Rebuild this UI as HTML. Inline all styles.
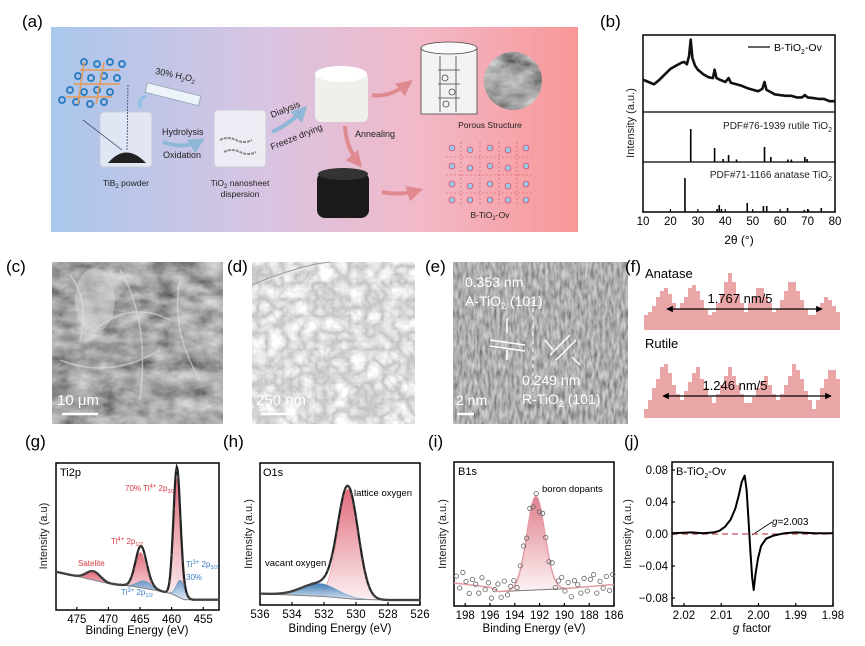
<!DOCTYPE html>
<html><head><meta charset="utf-8">
<style>
html,body{margin:0;padding:0;background:#fff;}
svg{display:block;font-family:"Liberation Sans",Arial,sans-serif;}
</style></head>
<body>
<svg id="fig" width="865" height="646" viewBox="0 0 865 646" xmlns="http://www.w3.org/2000/svg">
<defs>
<linearGradient id="gradA" x1="0" x2="1" y1="0" y2="0">
<stop offset="0" stop-color="#a9c7ec"/><stop offset="0.4" stop-color="#d8c4e2"/><stop offset="0.7" stop-color="#f2b9c8"/><stop offset="1" stop-color="#f89797"/>
</linearGradient>
<linearGradient id="gRed" x1="0" x2="0" y1="0" y2="1"><stop offset="0" stop-color="#de5d6e"/><stop offset="1" stop-color="#fbeef0"/></linearGradient>
<linearGradient id="gBlue" x1="0" x2="0" y1="0" y2="1"><stop offset="0" stop-color="#2f6fb0"/><stop offset="1" stop-color="#dbe8f4"/></linearGradient>
<linearGradient id="gPink" x1="0" x2="0" y1="0" y2="1"><stop offset="0" stop-color="#e07f8c"/><stop offset="1" stop-color="#fdf3f4"/></linearGradient>
<filter id="semC" x="0" y="0" width="1" height="1"><feTurbulence type="fractalNoise" baseFrequency="0.04 0.07" numOctaves="4" seed="3"/><feColorMatrix type="matrix" values="0.8 0.2 0 0 -0.12  0.8 0.2 0 0 -0.12  0.8 0.2 0 0 -0.12  0 0 0 0 1"/></filter>
<filter id="temD" x="0" y="0" width="1" height="1"><feTurbulence type="turbulence" baseFrequency="0.06" numOctaves="3" seed="7"/><feColorMatrix type="matrix" values="0.8 0 0 0 0.5  0.8 0 0 0 0.5  0.8 0 0 0 0.5  0 0 0 0 1"/></filter>
<filter id="hrE" x="0" y="0" width="1" height="1"><feTurbulence type="fractalNoise" baseFrequency="0.35 0.1" numOctaves="2" seed="5"/><feColorMatrix type="matrix" values="0.7 0 0 0 0.07  0.7 0 0 0 0.07  0.7 0 0 0 0.07  0 0 0 0 1"/></filter>
<marker id="arrK" viewBox="0 0 10 10" refX="9" refY="5" markerWidth="5" markerHeight="5" orient="auto-start-reverse"><path d="M0,0L10,5L0,10z" fill="#000"/></marker>
<marker id="arrP" viewBox="0 0 10 10" refX="8" refY="5" markerWidth="4" markerHeight="4" orient="auto"><path d="M0,0L10,5L0,10z" fill="#e08a8f"/></marker>
<marker id="arrB" viewBox="0 0 10 10" refX="8" refY="5" markerWidth="4" markerHeight="4" orient="auto"><path d="M0,0L10,5L0,10z" fill="#8fb7d8"/></marker>
<clipPath id="circClip"><circle cx="513" cy="81" r="29"/></clipPath>
</defs>

<!-- Panel a -->
<g>
<text x="22" y="27" font-size="17">(a)</text>
<rect x="51" y="27" width="527" height="205" fill="url(#gradA)"/>
<g fill="none" stroke="#2f7fc1" stroke-width="2">
<circle cx="84" cy="62" r="3"/><circle cx="97" cy="64" r="3"/><circle cx="110" cy="62" r="3"/><circle cx="122" cy="64" r="3"/>
<circle cx="78" cy="76" r="3"/><circle cx="91" cy="78" r="3"/><circle cx="104" cy="76" r="3"/><circle cx="117" cy="78" r="3"/>
<circle cx="70" cy="90" r="3"/><circle cx="84" cy="92" r="3"/><circle cx="97" cy="90" r="3"/><circle cx="110" cy="92" r="3"/>
<circle cx="62" cy="100" r="3"/><circle cx="76" cy="102" r="3"/><circle cx="90" cy="104" r="3"/><circle cx="104" cy="102" r="3"/>
</g>
<g stroke="#e39a5a" stroke-width="1.5"><path d="M80 70L120 70M74 84L120 84M66 97L112 97M84 62L78 104M104 62L96 104" /></g>
<g>
<rect x="100" y="112" width="52" height="55" rx="4" fill="#f2f4f8" fill-opacity="0.7" stroke="#c9ccd6"/>
<path d="M108 163 Q126 142 146 163 Z" fill="#222"/>
<line x1="83" y1="120" x2="122" y2="150" stroke="#335" stroke-width="0.7"/>
<line x1="128" y1="85" x2="127" y2="150" stroke="#335" stroke-width="0.7" stroke-dasharray="2 1"/>
</g>
<text x="126" y="186" font-size="8.5" text-anchor="middle" fill="#222">TiB<tspan font-size="6" dy="2">2</tspan><tspan dy="-2"> powder</tspan></text>
<g transform="rotate(14 172 96)">
<rect x="145" y="89" width="55" height="10" fill="#eef3fa" stroke="#9ab" />
</g>
<path d="M140 108 Q138 99 146 96" stroke="#8fc0e6" stroke-width="3" fill="none"/>
<text x="155" y="78" font-size="9" transform="rotate(12 175 75)" fill="#222">30% H<tspan font-size="6" dy="2">2</tspan><tspan dy="-2">O</tspan><tspan font-size="6" dy="2">2</tspan></text>
<text x="162" y="135" font-size="9" fill="#222">Hydrolysis</text>
<text x="163" y="158" font-size="9" fill="#222">Oxidation</text>
<path d="M163 142 Q185 150 202 140" stroke="#8fb7d8" stroke-width="4" fill="none" marker-end="url(#arrB)"/>
<g>
<rect x="214" y="110" width="52" height="57" rx="4" fill="#f5f5f8" fill-opacity="0.8" stroke="#c9ccd6"/>
<path d="M220 140 q8 -4 16 0 q8 4 16 0 M224 152 q8 -4 16 0 q8 4 16 0" stroke="#888" stroke-width="2" fill="none" stroke-dasharray="3 1"/>
</g>
<text x="240" y="186" font-size="8.5" text-anchor="middle" fill="#222">TiO<tspan font-size="6" dy="2">2</tspan><tspan dy="-2"> nanosheet</tspan></text>
<text x="240" y="197" font-size="8.5" text-anchor="middle" fill="#222">dispersion</text>
<text x="272" y="118" font-size="9" transform="rotate(-22 272 118)" fill="#222">Dialysis</text>
<text x="272" y="150" font-size="9" transform="rotate(-22 272 150)" fill="#222">Freeze drying</text>
<path d="M272 132 Q290 124 305 108" stroke="#8fb7d8" stroke-width="4" fill="none" marker-end="url(#arrB)"/>
<g><rect x="315" y="72" width="53" height="50" rx="6" fill="#efefec"/><ellipse cx="341" cy="74" rx="26" ry="8" fill="#ffffff"/></g>
<text x="355" y="137" font-size="9" fill="#222">Annealing</text>
<path d="M345 126 Q346 148 360 165" stroke="#e08a8f" stroke-width="4" fill="none" marker-end="url(#arrP)"/>
<g><rect x="317" y="172" width="52" height="46" rx="8" fill="#1b1b1b"/><ellipse cx="343" cy="174" rx="25" ry="6" fill="#333"/></g>
<path d="M372 95 Q390 98 410 82" stroke="#e08a8f" stroke-width="4" fill="none" marker-end="url(#arrP)"/>
<path d="M382 192 Q400 196 420 190" stroke="#e08a8f" stroke-width="4" fill="none" marker-end="url(#arrP)"/>
<g fill="none" stroke="#444" stroke-width="0.8">
<rect x="421" y="48" width="56" height="66" fill="#f4f2f2"/><ellipse cx="449" cy="48" rx="28" ry="6" fill="#fafafa"/>
<path d="M440 56 L440 112 M456 56 L456 112 M438 70 h22 M438 84 h22 M438 98 h22"/>
<circle cx="445" cy="78" r="3"/><circle cx="452" cy="92" r="3"/><circle cx="446" cy="104" r="3"/>
</g>
<g clip-path="url(#circClip)"><rect x="484" y="52" width="58" height="58" fill="#888" filter="url(#semC)"/></g>
<text x="490" y="128" font-size="8.5" text-anchor="middle" fill="#222">Porous Structure</text>
<g fill="#9cc6e6" stroke="#d35" stroke-width="0.6">
<circle cx="452" cy="148" r="3"/><circle cx="470" cy="150" r="3"/><circle cx="490" cy="148" r="3"/><circle cx="508" cy="150" r="3"/><circle cx="526" cy="148" r="3"/>
<circle cx="452" cy="166" r="3"/><circle cx="470" cy="168" r="3"/><circle cx="490" cy="166" r="3"/><circle cx="508" cy="168" r="3"/><circle cx="526" cy="166" r="3"/>
<circle cx="452" cy="184" r="3"/><circle cx="470" cy="186" r="3"/><circle cx="490" cy="184" r="3"/><circle cx="508" cy="186" r="3"/><circle cx="526" cy="184" r="3"/>
<circle cx="452" cy="200" r="3"/><circle cx="470" cy="200" r="3"/><circle cx="490" cy="200" r="3"/><circle cx="508" cy="200" r="3"/><circle cx="526" cy="200" r="3"/>
<path d="M446 157h88M446 175h88M446 193h88M461 142v64M480 142v64M499 142v64M517 142v64" stroke="#d55" stroke-dasharray="2 2"/>
</g>
<text x="490" y="218" font-size="8.5" text-anchor="middle" fill="#222">B-TiO<tspan font-size="6" dy="2">2</tspan><tspan dy="-2">-Ov</tspan></text>
</g>

<!-- Panel b -->
<g id="pb">
<text x="600" y="27" font-size="17">(b)</text>
<rect x="643" y="35" width="192" height="177" fill="none" stroke="#000" stroke-width="1.5"/>
<line x1="643" y1="112" x2="835" y2="112" stroke="#000" stroke-width="1.2"/>
<line x1="643" y1="162" x2="835" y2="162" stroke="#000" stroke-width="1.2"/>
<line x1="748" y1="47" x2="770" y2="47" stroke="#333" stroke-width="1.5"/>
<text x="774" y="51" font-size="10.5">B-TiO<tspan font-size="7" dy="3">2</tspan><tspan dy="-3">-Ov</tspan></text>
<text x="832" y="129" font-size="10" text-anchor="end" fill="#222">PDF#76-1939 rutile TiO<tspan font-size="7" dy="3">2</tspan></text>
<text x="832" y="178" font-size="10" text-anchor="end" fill="#222">PDF#71-1166 anatase TiO<tspan font-size="7" dy="3">2</tspan></text>
<text transform="translate(634 123) rotate(-90)" font-size="11" text-anchor="middle" fill="#222">Intensity (a.u.)</text>
<text x="739" y="244" font-size="12" text-anchor="middle">2θ (°)</text>
</g>

<!-- Panels c,d,e images -->
<g>
<text x="6" y="272" font-size="17">(c)</text>
<rect x="52" y="262" width="171" height="162" fill="#777" filter="url(#semC)"/>
<path d="M70 275 Q90 300 80 340 M120 270 Q150 320 140 400 M180 280 Q170 330 200 380 M60 360 Q110 380 160 350 M95 330 Q130 300 170 320" stroke="#e0e0e0" stroke-width="1.5" fill="none" opacity="0.6"/>
<ellipse cx="95" cy="300" rx="20" ry="32" fill="#ddd" opacity="0.45"/>
<text x="57" y="405" font-size="15" fill="#fff">10 μm</text>
<line x1="62" y1="414" x2="98" y2="414" stroke="#fff" stroke-width="2.5"/>
</g>
<g>
<text x="227" y="272" font-size="17">(d)</text>
<rect x="252" y="262" width="163" height="162" fill="#d6d6d6" filter="url(#temD)"/>
<path d="M252 285 Q300 265 330 262" stroke="#999" stroke-width="1" fill="#e8e8e8"/>
<text x="256" y="405" font-size="15" fill="#fff">250 nm</text>
<line x1="261" y1="414" x2="293" y2="414" stroke="#fff" stroke-width="2.5"/>
</g>
<g>
<text x="425" y="272" font-size="17">(e)</text>
<rect x="453" y="262" width="175" height="162" fill="#6e6e6e" filter="url(#hrE)"/>
<text x="465" y="287" font-size="14" fill="#fff">0.353 nm</text>
<text x="465" y="306" font-size="14" fill="#fff">A-TiO<tspan font-size="9" dy="3">2</tspan><tspan dy="-3"> (101)</tspan></text>
<path d="M490 340 L525 345 M490 346 L525 351 M550 355 L570 335 M556 360 L576 340 M507 318 v15 M507 360 v-10 M545 340 l8 10 M580 365 l-8 -8" stroke="#fff" stroke-width="1.5" fill="none"/>
<line x1="533" y1="300" x2="533" y2="395" stroke="#fff" stroke-dasharray="4 4" stroke-width="1"/>
<text x="522" y="385" font-size="14" fill="#fff">0.249 nm</text>
<text x="522" y="404" font-size="14" fill="#fff">R-TiO<tspan font-size="9" dy="3">2</tspan><tspan dy="-3"> (101)</tspan></text>
<text x="456" y="405" font-size="14" fill="#fff">2 nm</text>
<line x1="457" y1="414" x2="474" y2="414" stroke="#fff" stroke-width="2.5"/>
</g>
<g id="pf">
<text x="625" y="272" font-size="17">(f)</text>
<text x="645" y="278" font-size="13">Anatase</text>
<text x="645" y="348" font-size="13">Rutile</text>
</g>

<!-- bottom panels labels and frames -->
<g id="pg">
<text x="25" y="447" font-size="17">(g)</text>
<rect x="56" y="463" width="163" height="147" fill="none" stroke="#000" stroke-width="1.5"/>
<text x="60" y="476" font-size="11">Ti2p</text>
<text x="125" y="491" font-size="8" fill="#d6393f">70% Ti<tspan font-size="6" dy="-3">4+</tspan><tspan dy="3"> 2p</tspan><tspan font-size="5.5" dy="2">3/2</tspan></text>
<text x="111" y="544" font-size="8" fill="#d6393f">Ti<tspan font-size="6" dy="-3">4+</tspan><tspan dy="3"> 2p</tspan><tspan font-size="5.5" dy="2">1/2</tspan></text>
<text x="78" y="566" font-size="8" fill="#d6393f">Satelite</text>
<text x="186" y="567" font-size="8" fill="#3b7fc4">Ti<tspan font-size="6" dy="-3">3+</tspan><tspan dy="3"> 2p</tspan><tspan font-size="5.5" dy="2">3/2</tspan></text>
<text x="186" y="580" font-size="8" fill="#3b7fc4">30%</text>
<text x="121" y="595" font-size="8" fill="#3b7fc4">Ti<tspan font-size="6" dy="-3">3+</tspan><tspan dy="3"> 2p</tspan><tspan font-size="5.5" dy="2">1/2</tspan></text>
<text transform="translate(47 536) rotate(-90)" font-size="11" text-anchor="middle" fill="#222">Intensity (a.u)</text>
<text x="137" y="634" font-size="11.5" text-anchor="middle">Binding Energy (eV)</text>
</g>
<g id="ph">
<text x="223" y="447" font-size="17">(h)</text>
<rect x="260" y="463" width="160" height="142" fill="none" stroke="#000" stroke-width="1.5"/>
<text x="263" y="476" font-size="11">O1s</text>
<text x="354" y="496" font-size="9.5">lattice oxygen</text>
<text x="265" y="566" font-size="9.5">vacant oxygen</text>
<text transform="translate(252 534) rotate(-90)" font-size="11" text-anchor="middle" fill="#222">Intensity (a.u.)</text>
<text x="340" y="632" font-size="11.5" text-anchor="middle">Binding Energy (eV)</text>
</g>
<g id="pi">
<text x="428" y="447" font-size="17">(i)</text>
<rect x="454" y="462" width="160" height="144" fill="none" stroke="#000" stroke-width="1.5"/>
<text x="458" y="475" font-size="11">B1s</text>
<text x="542" y="492" font-size="9.5">boron dopants</text>
<text transform="translate(446 534) rotate(-90)" font-size="11" text-anchor="middle" fill="#222">Intensity (a.u.)</text>
<text x="534" y="632" font-size="11.5" text-anchor="middle">Binding Energy (eV)</text>
</g>
<g id="pj">
<text x="624" y="447" font-size="17">(j)</text>
<rect x="672" y="462" width="161" height="144" fill="none" stroke="#000" stroke-width="1.5"/>
<text x="676" y="475" font-size="11">B-TiO<tspan font-size="7" dy="3">2</tspan><tspan dy="-3">-Ov</tspan></text>
<text x="772" y="525" font-size="10"><tspan font-style="italic">g</tspan>=2.003</text>
<line x1="752" y1="535" x2="772" y2="522" stroke="#000" stroke-width="0.8"/>
<text transform="translate(631 534) rotate(-90)" font-size="11" text-anchor="middle" fill="#222">Intensity (a.u.)</text>
<text x="752" y="632" font-size="11.5" text-anchor="middle"><tspan font-style="italic">g</tspan> factor</text>
</g>
</svg>

<script>
// ---------- data ----------
const xrdAngles = [10,12,14,16,18,20,22,24,25,26,26.8,27.4,28,29,30,32,34,35.5,36.1,36.8,38,40,41.2,42,44,46,48,50,52,53.5,54.3,55,56.5,58,60,62,64,66,68,69,70,72,74,76,78,80];
const xrdIntensity = [0.42,0.39,0.36,0.42,0.49,0.56,0.60,0.64,0.65,0.62,0.73,0.94,0.70,0.60,0.55,0.49,0.45,0.44,0.55,0.44,0.42,0.39,0.44,0.38,0.36,0.34,0.31,0.29,0.27,0.30,0.39,0.29,0.26,0.23,0.22,0.21,0.21,0.19,0.19,0.22,0.19,0.18,0.17,0.17,0.14,0.14];
const rutileAngles = [27.4,36.1,39.2,41.2,44.1,54.3,56.6,62.8,64.1,69.0,69.8];
const rutileHeights = [0.66,0.28,0.06,0.14,0.05,0.30,0.10,0.05,0.05,0.10,0.06];
const anataseAngles = [25.3,37.0,37.8,38.6,48.0,53.9,55.1,62.7,68.8,70.3,75.0];
const anataseHeights = [0.68,0.06,0.14,0.06,0.18,0.12,0.12,0.08,0.04,0.05,0.08];
const xrdTicks = [10,20,30,40,50,60,70,80];

const anatasePeakX = [665,693,730,760,792,827];
const anatasePeakH = [45,48,56,45,52,35];
const rutilePeakX = [665,697,730,765,795,832];
const rutilePeakH = [58,52,50,43,55,53];

const ti2pBgE = [478.3,474,470,466,462,460,459,458,455,452.5];
const ti2pBgI = [0.26,0.22,0.18,0.16,0.13,0.11,0.09,0.07,0.07,0.07];
const ti2pNames = ['ti4-2p32','ti4-2p12','satellite','ti3-2p32','ti3-2p12'];
const ti2pCenters = [459.2,464.9,472.4,458.6,464.3];
const ti2pHeights = [0.80,0.24,0.06,0.12,0.05];
const ti2pFwhm = [1.25,2.0,2.6,1.5,2.6];
const ti2pKind = ['red','red','red','blue','blue'];
const ti2pTicks = [475,470,465,460,455];

const o1sBgE = [536,534,532,530,528,526];
const o1sBgI = [0.08,0.07,0.06,0.04,0.035,0.035];
const o1sCenters = [530.5,532.3];
const o1sHeights = [0.77,0.09];
const o1sFwhm = [1.5,2.6];
const o1sKind = ['red','blue'];
const o1sTicks = [536,534,532,530,528,526];

const b1sBgE = [198.9,196,195.3,190,186];
const b1sBgI = [0.16,0.13,0.10,0.12,0.15];
const b1sCenter = 192.3;
const b1sHeight = 0.65;
const b1sFwhm = 1.7;
const b1sNoise = [0.05,-0.03,0.08,0.02,-0.06,0.04,0.01,-0.05,0.06,-0.02,0.03,-0.07,0.0,0.05,-0.04,0.07,-0.03,0.02,0.04,-0.05,0.03,0.06,-0.02,0.05,-0.04,0.02,-0.06,0.04,0.01,-0.03,0.06,-0.05,0.03,0.07,-0.02,0.04,-0.06,0.05,0.02,-0.04,0.06,-0.03,0.05,0.08,-0.05,0.03,-0.02,0.06,-0.04,0.07];
const b1sTicks = [198,196,194,192,190,188,186];

const eprG = [2.0232,2.018,2.015,2.012,2.0105,2.009,2.0075,2.0062,2.0052,2.0045,2.0037,2.0032,2.0027,2.0022,2.0017,2.0013,2.0008,2.0001,1.9993,1.998,1.996,1.993,1.99,1.985,1.98];
const eprI = [0.001,0.002,0.001,0.002,0.004,0.009,0.018,0.032,0.05,0.065,0.073,0.055,0.02,-0.02,-0.055,-0.07,-0.05,-0.03,-0.015,-0.006,-0.002,0.001,0.002,0.001,0.001];
const eprTicksX = [2.02,2.01,2.00,1.99,1.98];
const eprTickLabelsX = ['2.02','2.01','2.00','1.99','1.98'];
const eprTicksY = [0.08,0.04,0,-0.04,-0.08];
const eprTickLabelsY = ['0.08','0.04','0.00','\u22120.04','\u22120.08'];

// ---------- helpers ----------
const NS='http://www.w3.org/2000/svg';
function lin(d0,d1,r0,r1){return v=>r0+(v-d0)*(r1-r0)/(d1-d0);}
function add(parent,tag,attrs,name,inter){
  const el=document.createElementNS(NS,tag);
  for(const k in attrs) el.setAttribute(k,attrs[k]);
  
  
  parent.appendChild(el); return el;
}
function interp(xs,ys,x){
  const asc = xs[0]<xs[xs.length-1];
  for(let i=0;i<xs.length-1;i++){
    const a=xs[i],b=xs[i+1];
    if((asc && x>=a && x<=b)||(!asc && x<=a && x>=b)) return ys[i]+(ys[i+1]-ys[i])*(x-a)/(b-a);
  }
  return (Math.abs(x-xs[0])<Math.abs(x-xs[xs.length-1]))?ys[0]:ys[ys.length-1];
}
function gauss(x,c,h,f){const s=f/2.355;return h*Math.exp(-0.5*((x-c)/s)**2);}
function xTicks(g,ticks,labels,sx,yb,len){
  ticks.forEach((t,i)=>{
    add(g,'line',{x1:sx(t),x2:sx(t),y1:yb,y2:yb-len,stroke:'#000','stroke-width':1.2},'x-tick');
    const tx=add(g,'text',{x:sx(t),y:yb+13,'font-size':11.5,'text-anchor':'middle'},'x-tick-label');
    tx.textContent=labels?labels[i]:t;
  });
}

// ---------- panel b ----------
(function(){
  const g=document.getElementById('pb');
  const sx=lin(10,80,643,835);
  const y1=lin(0,1,112,35), y2=lin(0,1,162,112), y3=lin(0,1,212,162);
  const pts=xrdAngles.map((a,i)=>sx(a).toFixed(1)+','+y1(xrdIntensity[i]).toFixed(1)).join(' ');
  add(g,'polyline',{points:pts,fill:'none',stroke:'#111','stroke-width':2.6,'stroke-linejoin':'round'},'xrd-pattern-line');
  rutileAngles.forEach((a,i)=>{
    add(g,'line',{x1:sx(a),x2:sx(a),y1:y2(0),y2:y2(rutileHeights[i]),stroke:'#000','stroke-width':1.6},'rutile-reference-stick');
  });
  anataseAngles.forEach((a,i)=>{
    add(g,'line',{x1:sx(a),x2:sx(a),y1:y3(0),y2:y3(anataseHeights[i]),stroke:'#000','stroke-width':1.6},'anatase-reference-stick');
  });
  xTicks(g,xrdTicks,null,sx,212,3);
})();

// ---------- panel f ----------
(function(){
  const g=document.getElementById('pf');
  function profile(px,ph,base,floor,hw,name){
    let d='M644,'+base;
    for(let x=644;x<840;x+=4){
      let h=floor;
      px.forEach((p,i)=>{h=Math.max(h,ph[i]-Math.abs(x+2-p)*ph[i]/hw);});
      h=Math.round(h/3)*3;
      d+=' L'+x+','+(base-h)+' L'+(x+4)+','+(base-h);
    }
    d+=' L840,'+base+' Z';
    add(g,'path',{d:d,fill:'#eaa5a7'},name);
  }
  profile(anatasePeakX,anatasePeakH,330,14,24,'anatase-line-profile');
  profile(rutilePeakX,rutilePeakH,418,10,22,'rutile-line-profile');
  add(g,'line',{x1:667,x2:822,y1:309,y2:309,stroke:'#000','stroke-width':1.3,'marker-start':'url(#arrK)','marker-end':'url(#arrK)'},'anatase-spacing-arrow');
  add(g,'line',{x1:663,x2:831,y1:396,y2:396,stroke:'#000','stroke-width':1.3,'marker-start':'url(#arrK)','marker-end':'url(#arrK)'},'rutile-spacing-arrow');
  const t1=add(g,'text',{x:740,y:303,'font-size':13,'text-anchor':'middle'},'anatase-spacing-label'); t1.textContent='1.767 nm/5';
  const t2=add(g,'text',{x:735,y:390,'font-size':13,'text-anchor':'middle'},'rutile-spacing-label'); t2.textContent='1.246 nm/5';
})();

// ---------- XPS generic ----------
function xps(g,e0,e1,x0,x1,yTop,yBot,bgE,bgI,centers,heights,fwhm,kinds,names,ticks,dots){
  const sx=lin(e0,e1,x0,x1), sy=lin(0,1,yBot,yTop);
  const N=220, es=[];
  for(let k=0;k<=N;k++) es.push(e0+(e1-e0)*k/N);
  const bg=es.map(e=>interp(bgE,bgI,e));
  centers.forEach((c,j)=>{
    let top='',bot='';
    es.forEach((e,k)=>{const v=bg[k]+gauss(e,c,heights[j],fwhm[j]); top+=(k?' L':'M')+sx(e).toFixed(1)+','+sy(v).toFixed(1);});
    for(let k=N;k>=0;k--) bot+=' L'+sx(es[k]).toFixed(1)+','+sy(bg[k]).toFixed(1);
    add(g,'path',{d:top+bot+' Z',fill:kinds[j]==='red'?'url(#gRed)':'url(#gBlue)',stroke:kinds[j]==='red'?'#e88':'#5b8fc6','stroke-width':0.6,'fill-opacity':0.9},names[j]+'-component');
  });
  const bpts=es.map((e,k)=>sx(e).toFixed(1)+','+sy(bg[k]).toFixed(1)).join(' ');
  add(g,'polyline',{points:bpts,fill:'none',stroke:'#888','stroke-width':1},'background-line');
  const env=es.map((e,k)=>{let v=bg[k];centers.forEach((c,j)=>v+=gauss(e,c,heights[j],fwhm[j]));return v;});
  const epts=es.map((e,k)=>sx(e).toFixed(1)+','+sy(env[k]).toFixed(1)).join(' ');
  add(g,'polyline',{points:epts,fill:'none',stroke:'#222','stroke-width':2.2},'envelope-line');
  if(dots){ for(let k=0;k<=N;k+=3){ add(g,'circle',{cx:sx(es[k]),cy:sy(env[k]),r:1.2,fill:'#444'},'data-point'); } }
  xTicks(g,ticks,null,sx,yBot,3);
}
xps(document.getElementById('pg'),478.3,452.5,56,219,463,610,ti2pBgE,ti2pBgI,ti2pCenters,ti2pHeights,ti2pFwhm,ti2pKind,ti2pNames,ti2pTicks,true);
xps(document.getElementById('ph'),536,526,260,420,463,605,o1sBgE,o1sBgI,o1sCenters,o1sHeights,o1sFwhm,o1sKind,['lattice-oxygen','vacant-oxygen'],o1sTicks,true);

// ---------- panel i ----------
(function(){
  const g=document.getElementById('pi');
  const sx=lin(198.9,186,454,614), sy=lin(0,1,606,462);
  const N=200, es=[];
  for(let k=0;k<=N;k++) es.push(198.9+(186-198.9)*k/N);
  const bg=es.map(e=>interp(b1sBgE,b1sBgI,e));
  const fit=es.map((e,k)=>bg[k]+gauss(e,b1sCenter,b1sHeight,b1sFwhm));
  let top='',bot='';
  es.forEach((e,k)=>{top+=(k?' L':'M')+sx(e).toFixed(1)+','+sy(fit[k]).toFixed(1);});
  for(let k=N;k>=0;k--) bot+=' L'+sx(es[k]).toFixed(1)+','+sy(bg[k]).toFixed(1);
  add(g,'path',{d:top+bot+' Z',fill:'url(#gPink)'},'boron-component');
  add(g,'polyline',{points:es.map((e,k)=>sx(e).toFixed(1)+','+sy(bg[k]).toFixed(1)).join(' '),fill:'none',stroke:'#777','stroke-width':1},'background-line');
  add(g,'polyline',{points:es.map((e,k)=>sx(e).toFixed(1)+','+sy(fit[k]).toFixed(1)).join(' '),fill:'none',stroke:'#e39aa3','stroke-width':1.4},'fit-line');
  b1sNoise.forEach((n,i)=>{
    const e=198.7-i*(12.6/(b1sNoise.length-1));
    const v=interp(b1sBgE,b1sBgI,e)+gauss(e,b1sCenter,b1sHeight,b1sFwhm)+n;
    add(g,'circle',{cx:sx(e),cy:sy(v),r:2.2,fill:'none',stroke:'#666','stroke-width':0.8},'data-point');
  });
  xTicks(g,b1sTicks,null,sx,606,3);
})();

// ---------- panel j ----------
(function(){
  const g=document.getElementById('pj');
  const sx=lin(2.02,1.98,684,833), sy=lin(0.08,-0.08,470,598);
  add(g,'line',{x1:672,x2:833,y1:sy(0),y2:sy(0),stroke:'#c0505a','stroke-width':1.3,'stroke-dasharray':'6 4'},'zero-reference-line');
  const pts=eprG.map((v,i)=>sx(v).toFixed(1)+','+sy(eprI[i]).toFixed(1)).join(' ');
  add(g,'polyline',{points:pts,fill:'none',stroke:'#000','stroke-width':2,'stroke-linejoin':'round'},'epr-spectrum-line');
  xTicks(g,eprTicksX,eprTickLabelsX,sx,606,3);
  eprTicksY.forEach((t,i)=>{
    add(g,'line',{x1:672,x2:675,y1:sy(t),y2:sy(t),stroke:'#000','stroke-width':1.2},'y-tick');
    const tx=add(g,'text',{x:668,y:sy(t)+4,'font-size':11.5,'text-anchor':'end'},'y-tick-label');
    tx.textContent=eprTickLabelsY[i];
  });
})();
</script>
</body></html>
